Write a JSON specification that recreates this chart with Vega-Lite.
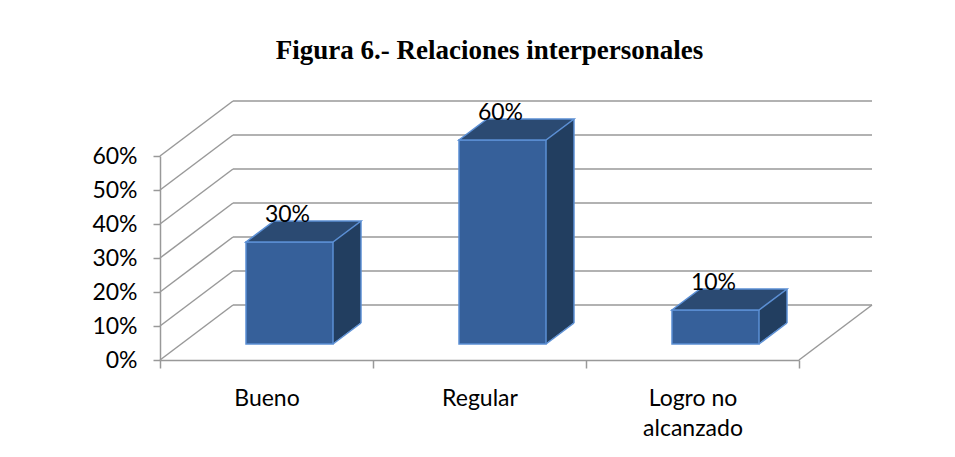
{
  "$schema": "https://vega.github.io/schema/vega-lite/v6.json",
  "width": 639,
  "height": 204,
  "autosize": {"type": "none"},
  "padding": {"left": 160, "top": 156, "right": 156, "bottom": 97},
  "background": "white",
  "title": {
    "text": "Figura 6.- Relaciones interpersonales",
    "font": "Liberation Serif",
    "fontSize": 27,
    "fontWeight": "bold",
    "color": "black",
    "anchor": "middle",
    "dx": 10,
    "offset": 35
  },
  "datasets": {
    "bars": [
      {"cat": "Bueno", "v": 0.3},
      {"cat": "Regular", "v": 0.6},
      {"cat": "Logro no alcanzado", "v": 0.1}
    ],
    "grid": [
      {"g": 0}, {"g": 0.1}, {"g": 0.2}, {"g": 0.3}, {"g": 0.4}, {"g": 0.5}, {"g": 0.6}
    ]
  },
  "config": {
    "view": {"stroke": null},
    "axisX": {
      "labelAngle": 0,
      "tickBand": "extent",
      "domainColor": "#999999",
      "domainWidth": 1.5,
      "tickColor": "#999999",
      "tickWidth": 1.5,
      "tickSize": 8,
      "labelFont": "Lato",
      "labelFontSize": 23,
      "labelColor": "black",
      "labelPadding": 19,
      "labelLineHeight": 30,
      "labelExpr": "datum.value == 'Logro no alcanzado' ? ['Logro no', 'alcanzado'] : datum.label",
      "grid": false
    },
    "axisY": {
      "tickCount": 7,
      "domainColor": "#999999",
      "domainWidth": 1.5,
      "tickColor": "#999999",
      "tickWidth": 1.5,
      "tickSize": 7,
      "labelFont": "Lato",
      "labelFontSize": 23,
      "labelColor": "black",
      "labelPadding": 16,
      "labelExpr": "format(datum.value, '.0%')",
      "grid": false
    }
  },
  "layer": [
    {
      "data": {"name": "grid"},
      "mark": {"type": "rule", "color": "#999999", "strokeWidth": 1.5, "xOffset": 73, "x2Offset": 73, "yOffset": -55},
      "encoding": {
        "x": {"datum": "Bueno", "type": "nominal", "bandPosition": 0, "scale": {"type": "band", "domain": ["Bueno", "Regular", "Logro no alcanzado"], "paddingInner": 0, "paddingOuter": 0}, "axis": {"title": null}},
        "x2": {"datum": "Logro no alcanzado", "bandPosition": 1},
        "y": {"field": "g", "type": "quantitative", "scale": {"domain": [0, 0.6], "nice": false}, "axis": {"title": null}}
      }
    },
    {
      "data": {"name": "grid"},
      "mark": {"type": "rule", "color": "#999999", "strokeWidth": 1.5, "x2Offset": 73, "y2Offset": -55},
      "encoding": {
        "x": {"datum": "Bueno", "type": "nominal", "bandPosition": 0, "scale": {"type": "band", "domain": ["Bueno", "Regular", "Logro no alcanzado"], "paddingInner": 0, "paddingOuter": 0}, "axis": {"title": null}},
        "x2": {"datum": "Bueno", "bandPosition": 0},
        "y": {"field": "g", "type": "quantitative", "scale": {"domain": [0, 0.6], "nice": false}, "axis": {"title": null}},
        "y2": {"field": "g"}
      }
    },
    {
      "data": {"name": "grid"},
      "transform": [{"filter": {"field": "g", "equal": 0}}],
      "mark": {"type": "rule", "color": "#999999", "strokeWidth": 1.5, "x2Offset": 73, "y2Offset": -55},
      "encoding": {
        "x": {"datum": "Logro no alcanzado", "type": "nominal", "bandPosition": 1, "scale": {"type": "band", "domain": ["Bueno", "Regular", "Logro no alcanzado"], "paddingInner": 0, "paddingOuter": 0}, "axis": {"title": null}},
        "x2": {"datum": "Logro no alcanzado", "bandPosition": 1},
        "y": {"field": "g", "type": "quantitative", "scale": {"domain": [0, 0.6], "nice": false}, "axis": {"title": null}},
        "y2": {"field": "g"}
      }
    },
    {
      "data": {"name": "bars"},
      "mark": {"type": "bar", "color": "#223e60", "width": {"band": 0.1315}, "xOffset": 80.5, "yOffset": -16, "y2Offset": -37},
      "encoding": {
        "x": {"field": "cat", "type": "nominal", "scale": {"type": "band", "domain": ["Bueno", "Regular", "Logro no alcanzado"], "paddingInner": 0, "paddingOuter": 0}, "axis": {"title": null}},
        "y": {"field": "v", "type": "quantitative", "scale": {"domain": [0, 0.6], "nice": false}, "axis": {"title": null}},
        "y2": {"datum": 0}
      }
    },
    {
      "data": {"name": "bars"},
      "mark": {"type": "point", "shape": "M43,0L71.5,-21L71.5,0.6L43,0.6Z", "size": 4, "filled": true, "opacity": 1, "color": "#223e60", "xOffset": 23, "yOffset": -16},
      "encoding": {
        "x": {"field": "cat", "type": "nominal", "scale": {"type": "band", "domain": ["Bueno", "Regular", "Logro no alcanzado"], "paddingInner": 0, "paddingOuter": 0}, "axis": {"title": null}},
        "y": {"field": "v", "type": "quantitative", "scale": {"domain": [0, 0.6], "nice": false}, "axis": {"title": null}}
      }
    },
    {
      "data": {"name": "bars"},
      "mark": {"type": "point", "shape": "M43,-21.6L43,0L71.5,-21.6Z", "size": 4, "filled": true, "opacity": 1, "color": "#223e60", "xOffset": 23, "yOffset": -16},
      "encoding": {
        "x": {"field": "cat", "type": "nominal", "scale": {"type": "band", "domain": ["Bueno", "Regular", "Logro no alcanzado"], "paddingInner": 0, "paddingOuter": 0}, "axis": {"title": null}},
        "y": {"datum": 0, "type": "quantitative", "scale": {"domain": [0, 0.6], "nice": false}, "axis": {"title": null}}
      }
    },
    {
      "data": {"name": "bars"},
      "mark": {"type": "bar", "color": "#36609a", "stroke": "#5b8fd4", "strokeWidth": 1.5, "width": {"band": 0.4085}, "xOffset": 23, "yOffset": -16, "y2Offset": -16},
      "encoding": {
        "x": {"field": "cat", "type": "nominal", "scale": {"type": "band", "domain": ["Bueno", "Regular", "Logro no alcanzado"], "paddingInner": 0, "paddingOuter": 0}, "axis": {"title": null}},
        "y": {"field": "v", "type": "quantitative", "scale": {"domain": [0, 0.6], "nice": false}, "axis": {"title": null}},
        "y2": {"datum": 0}
      }
    },
    {
      "data": {"name": "bars"},
      "mark": {"type": "point", "shape": "M-43.5,0L43.5,0L71.5,-21L-15.5,-21Z", "size": 4, "filled": true, "opacity": 1, "fill": "#2b4a72", "stroke": "#5b8fd4", "strokeWidth": 1.5, "xOffset": 23, "yOffset": -16},
      "encoding": {
        "x": {"field": "cat", "type": "nominal", "scale": {"type": "band", "domain": ["Bueno", "Regular", "Logro no alcanzado"], "paddingInner": 0, "paddingOuter": 0}, "axis": {"title": null}},
        "y": {"field": "v", "type": "quantitative", "scale": {"domain": [0, 0.6], "nice": false}, "axis": {"title": null}}
      }
    },
    {
      "data": {"name": "bars"},
      "mark": {"type": "rule", "color": "#5b8fd4", "strokeWidth": 1.5, "xOffset": 94.5, "yOffset": -37, "y2Offset": -37},
      "encoding": {
        "x": {"field": "cat", "type": "nominal", "bandPosition": 0.5, "scale": {"type": "band", "domain": ["Bueno", "Regular", "Logro no alcanzado"], "paddingInner": 0, "paddingOuter": 0}, "axis": {"title": null}},
        "y": {"field": "v", "type": "quantitative", "scale": {"domain": [0, 0.6], "nice": false}, "axis": {"title": null}},
        "y2": {"datum": 0}
      }
    },
    {
      "data": {"name": "bars"},
      "mark": {"type": "point", "shape": "M43.5,0L71.5,-21", "size": 4, "filled": false, "opacity": 1, "color": "#5b8fd4", "strokeWidth": 1.5, "xOffset": 23, "yOffset": -16},
      "encoding": {
        "x": {"field": "cat", "type": "nominal", "scale": {"type": "band", "domain": ["Bueno", "Regular", "Logro no alcanzado"], "paddingInner": 0, "paddingOuter": 0}, "axis": {"title": null}},
        "y": {"datum": 0, "type": "quantitative", "scale": {"domain": [0, 0.6], "nice": false}, "axis": {"title": null}}
      }
    },
    {
      "data": {"name": "bars"},
      "mark": {"type": "text", "font": "Lato", "fontSize": 23, "color": "black", "baseline": "middle", "xOffset": 21, "yOffset": -43},
      "encoding": {
        "x": {"field": "cat", "type": "nominal", "scale": {"type": "band", "domain": ["Bueno", "Regular", "Logro no alcanzado"], "paddingInner": 0, "paddingOuter": 0}, "axis": {"title": null}},
        "y": {"field": "v", "type": "quantitative", "scale": {"domain": [0, 0.6], "nice": false}, "axis": {"title": null}},
        "text": {"field": "v", "type": "quantitative", "format": ".0%"}
      }
    }
  ]
}
